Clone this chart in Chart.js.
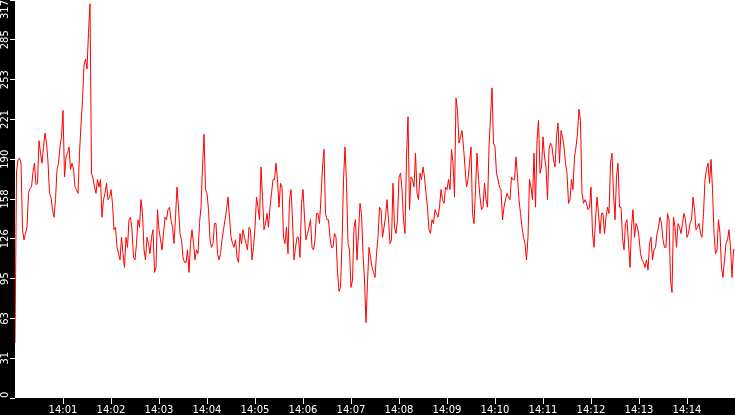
<!DOCTYPE html>
<html>
<head>
<meta charset="utf-8">
<script src="https://cdn.jsdelivr.net/npm/chart.js@4/dist/chart.umd.min.js"></script>
<style>
  html, body { margin: 0; padding: 0; background: #000; }
  #wrap { width: 735px; height: 415px; }
</style>
</head>
<body>
<div id="wrap"><canvas id="rateChart" width="735" height="415"></canvas></div>
<script>
// one sample every 1.875 s, 14:00 -> 14:15
const stepSeconds = 1.875;
const rates = [
  44, 180, 190, 191, 187, 134, 126, 131, 136, 163, 167, 168, 180, 187, 170, 171,
  205, 195, 187, 200, 211, 203, 188, 163, 160, 150, 144, 158, 182, 187, 200, 208,
  229, 176, 192, 195, 200, 182, 187, 182, 168, 166, 163, 195, 218, 237, 265, 270,
  262, 291, 314, 179, 175, 168, 163, 174, 168, 174, 144, 158, 163, 171, 158, 160,
  166, 155, 134, 136, 120, 115, 110, 128, 115, 104, 128, 120, 142, 144, 134, 112,
  110, 123, 142, 136, 158, 147, 118, 110, 128, 123, 115, 128, 134, 100, 104, 150,
  134, 126, 118, 131, 144, 142, 150, 152, 142, 136, 123, 144, 168, 152, 131, 126,
  112, 108, 108, 118, 100, 123, 134, 123, 110, 118, 115, 139, 152, 184, 210, 166,
  163, 150, 126, 120, 123, 139, 139, 115, 110, 115, 126, 134, 142, 150, 160, 144,
  128, 123, 120, 126, 112, 108, 131, 123, 134, 128, 123, 118, 136, 134, 110, 120,
  136, 160, 152, 142, 184, 160, 134, 139, 147, 136, 152, 163, 174, 174, 187, 174,
  152, 171, 168, 128, 123, 136, 115, 158, 166, 142, 110, 120, 128, 128, 112, 155,
  166, 144, 126, 131, 136, 142, 120, 118, 126, 147, 147, 139, 160, 184, 198, 147,
  142, 142, 128, 120, 120, 131, 128, 100, 85, 88, 123, 174, 200, 171, 123, 118,
  88, 94, 136, 142, 110, 131, 155, 147, 115, 94, 60, 92, 120, 112, 104, 100,
  96, 115, 128, 152, 150, 128, 136, 144, 158, 142, 123, 126, 171, 136, 131, 142,
  176, 179, 166, 142, 131, 192, 224, 150, 176, 174, 168, 195, 163, 158, 179, 174,
  184, 176, 163, 152, 134, 131, 142, 139, 150, 147, 144, 152, 166, 158, 155, 168,
  166, 174, 166, 198, 187, 160, 239, 229, 203, 208, 213, 200, 184, 168, 174, 187,
  200, 147, 139, 166, 195, 174, 160, 150, 152, 171, 158, 152, 200, 224, 247, 203,
  200, 179, 174, 168, 166, 142, 152, 158, 163, 160, 158, 176, 174, 174, 192, 176,
  158, 147, 136, 128, 123, 110, 128, 174, 168, 158, 195, 152, 205, 221, 179, 184,
  208, 192, 184, 158, 198, 203, 200, 190, 184, 208, 219, 187, 213, 208, 200, 187,
  179, 155, 158, 174, 166, 192, 200, 211, 230, 221, 163, 155, 158, 155, 150, 152,
  168, 131, 120, 142, 160, 147, 131, 147, 147, 131, 144, 152, 147, 187, 195, 163,
  142, 176, 187, 152, 152, 128, 118, 139, 142, 123, 104, 136, 150, 128, 139, 136,
  128, 115, 110, 108, 104, 110, 102, 123, 128, 110, 118, 120, 131, 136, 144, 139,
  126, 120, 120, 147, 142, 94, 84, 144, 136, 120, 139, 136, 131, 139, 147, 142,
  128, 131, 139, 142, 160, 150, 134, 136, 139, 131, 128, 147, 174, 182, 187, 171,
  190, 166, 131, 115, 118, 142, 131, 104, 96, 110, 123, 126, 134, 120, 96, 118,
  118
];
const timeLabels = ["14:01", "14:02", "14:03", "14:04", "14:05", "14:06", "14:07",
  "14:08", "14:09", "14:10", "14:11", "14:12", "14:13", "14:14"];
const yTickLabels = ["0", "31", "63", "95", "126", "158", "190", "221", "253", "285", "317"];
const yMax = 317;

const points = rates.map((v, i) => ({ x: i * stepSeconds, y: v }));

// black frame, white plot area, rotated y labels
const frame = {
  id: "frame",
  beforeDraw(chart) {
    const { ctx, chartArea: a } = chart;
    ctx.save();
    ctx.fillStyle = "#000";
    ctx.fillRect(0, 0, chart.width, chart.height);
    ctx.fillStyle = "#fff";
    ctx.fillRect(a.left, a.top, a.right - a.left, a.bottom - a.top);
    ctx.restore();
  },
  afterDraw(chart) {
    const { ctx, chartArea: a } = chart;
    const y = chart.scales.y;
    ctx.save();
    ctx.fillStyle = "#fff";
    ctx.font = "10px 'DejaVu Sans'";
    ctx.textAlign = "center";
    ctx.textBaseline = "middle";
    y.ticks.forEach((t, k) => {
      const txt = yTickLabels[k];
      const half = ctx.measureText(txt).width / 2;
      let py = y.getPixelForValue(t.value);
      py = Math.max(a.top + half, Math.min(a.bottom - half, py));
      ctx.save();
      ctx.translate(5.5, py);
      ctx.rotate(-Math.PI / 2);
      ctx.fillText(txt, 0, 0);
      ctx.restore();
    });
    ctx.restore();
  }
};

new Chart(document.getElementById("rateChart"), {
  type: "line",
  data: {
    datasets: [{
      data: points,
      borderColor: "#ff0000",
      borderWidth: 1,
      pointRadius: 0,
      tension: 0,
      fill: false
    }]
  },
  options: {
    responsive: false,
    animation: false,
    devicePixelRatio: 1,
    layout: { padding: 0 },
    plugins: { legend: { display: false }, tooltip: { enabled: false } },
    scales: {
      x: {
        type: "linear",
        min: 0,
        max: 900,
        afterBuildTicks: s => { s.ticks = timeLabels.map((_, k) => ({ value: (k + 1) * 60 })); },
        afterFit: s => { s.height = 17; },
        ticks: {
          color: "#fff",
          font: { family: "DejaVu Sans", size: 10 },
          padding: 0,
          maxRotation: 0,
          autoSkip: false,
          callback: (v, k) => timeLabels[k]
        },
        grid: { drawOnChartArea: false, drawTicks: true, tickLength: 6, color: "#fff" },
        border: { display: false }
      },
      y: {
        min: 0,
        max: yMax,
        afterBuildTicks: s => { s.ticks = yTickLabels.map((_, k) => ({ value: k * yMax / 10 })); },
        afterFit: s => { s.width = 15; },
        ticks: { display: false },
        grid: { drawOnChartArea: false, drawTicks: true, tickLength: 5, color: "#fff" },
        border: { display: false }
      }
    }
  },
  plugins: [frame]
});
</script>
</body>
</html>
